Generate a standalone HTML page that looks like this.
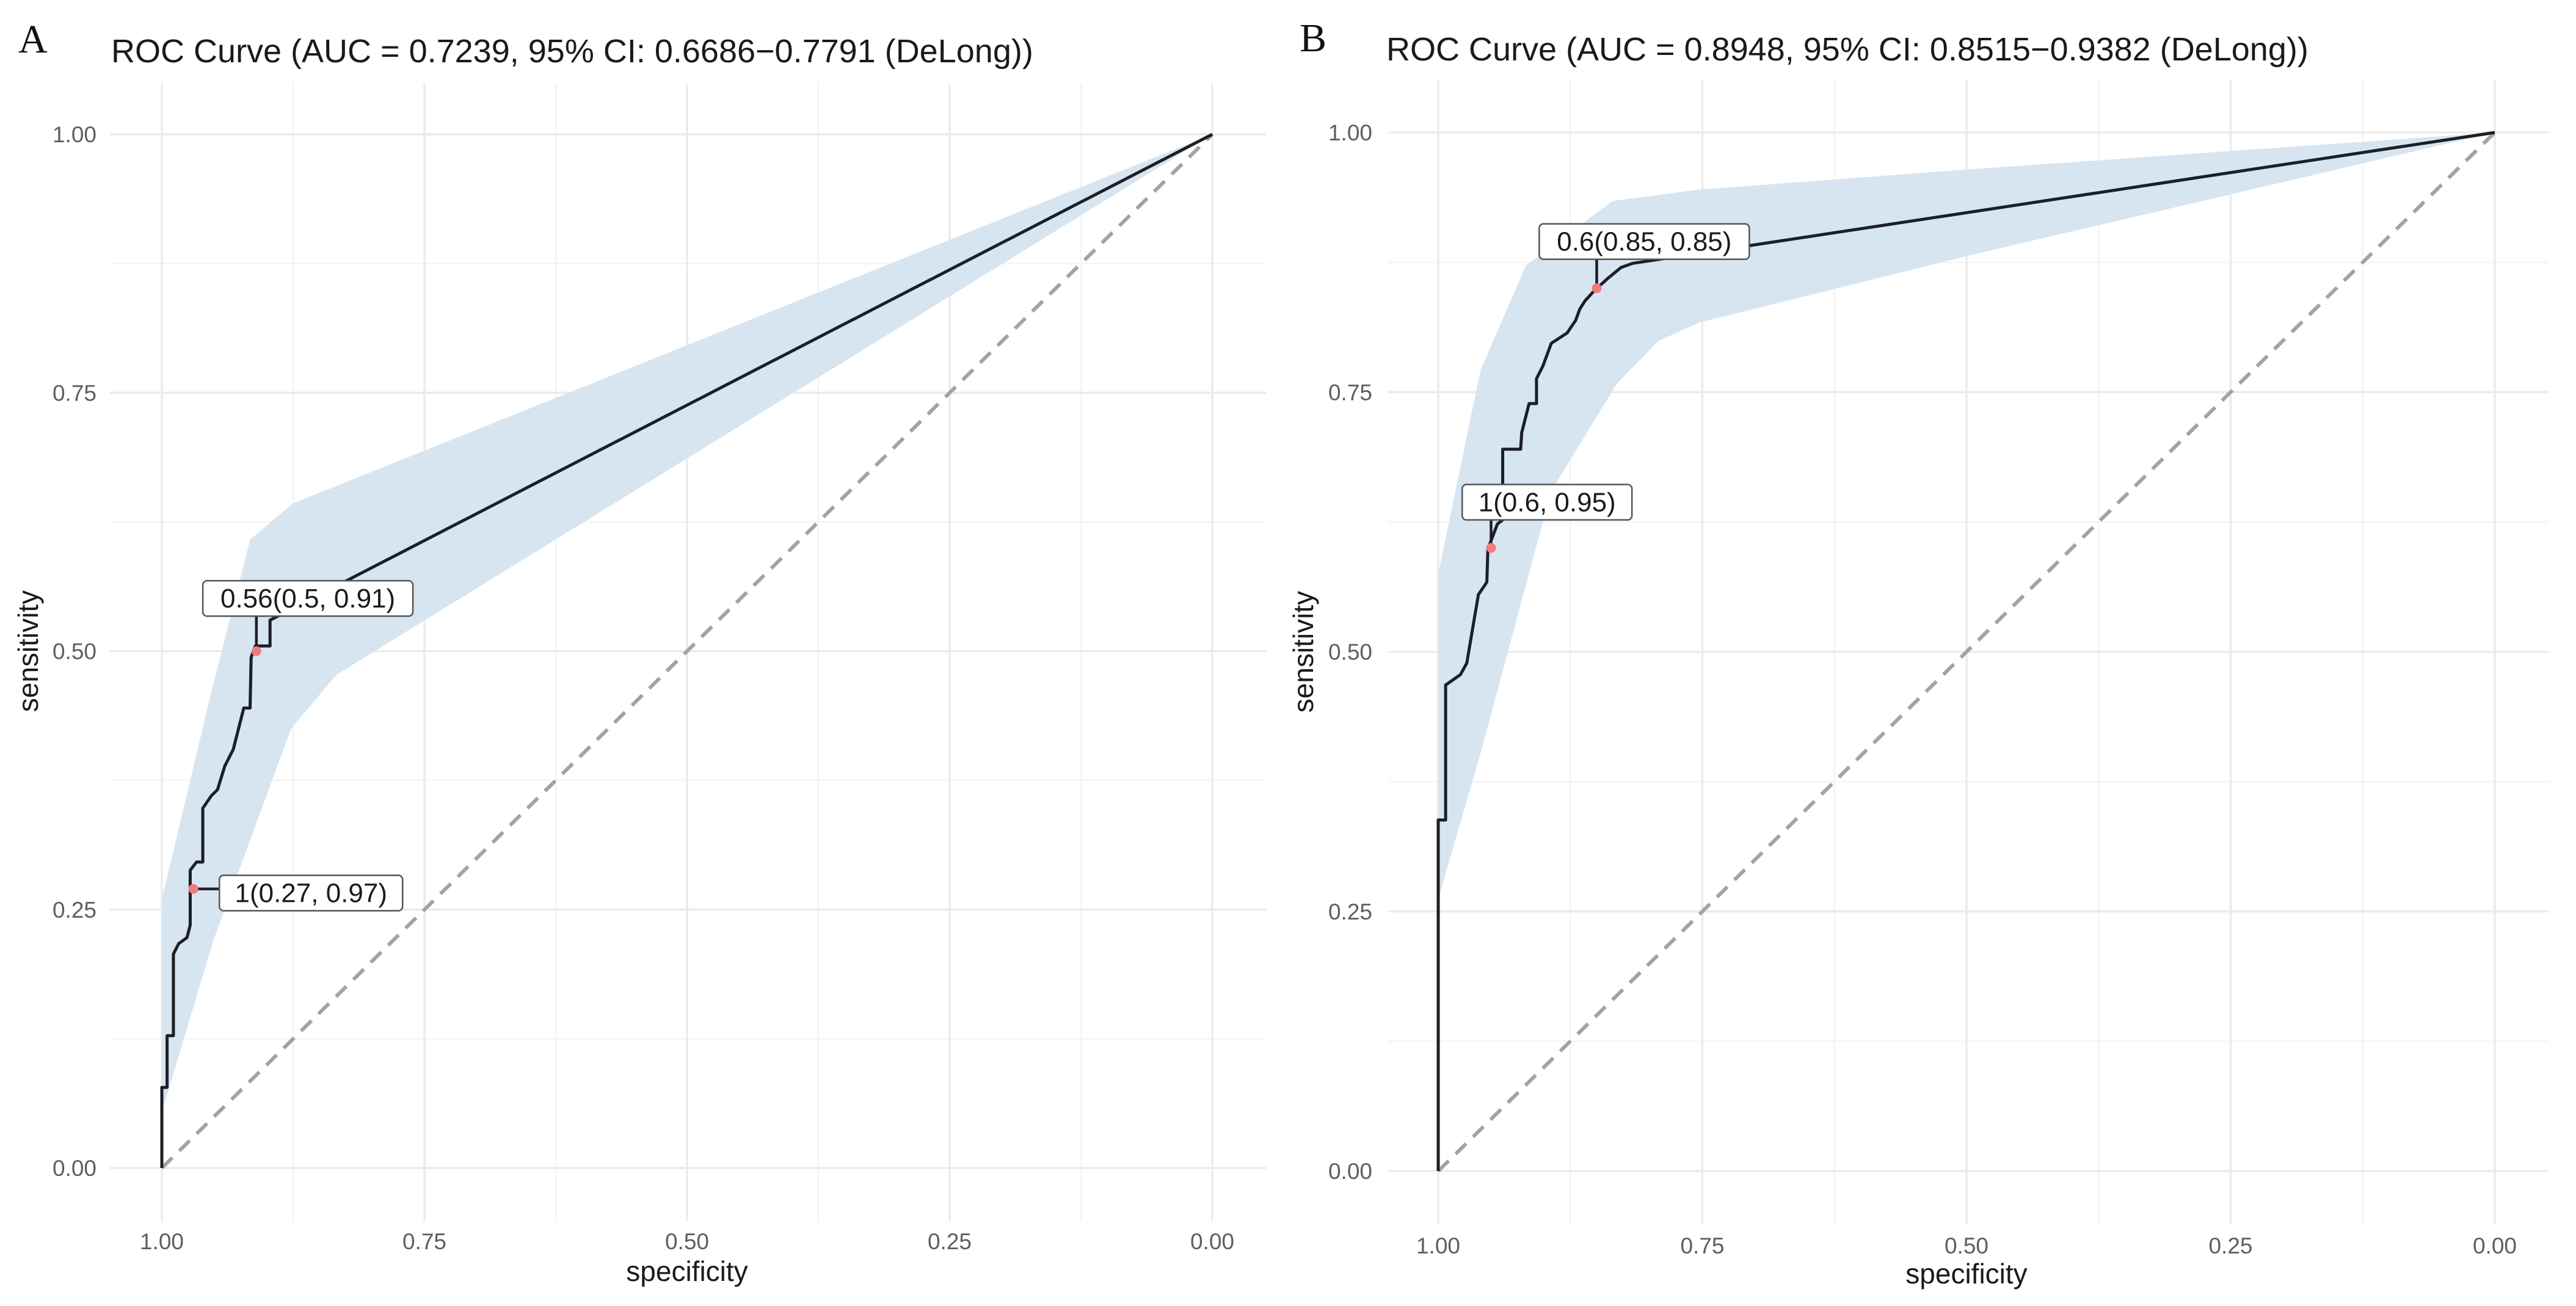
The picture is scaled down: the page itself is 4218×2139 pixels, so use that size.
<!DOCTYPE html>
<html><head><meta charset="utf-8">
<style>
html,body{margin:0;padding:0;background:#fff;}
svg{display:block;font-family:"Liberation Sans",Arial,sans-serif;}
</style></head>
<body>
<svg id="chart" width="4218" height="2139" viewBox="0 0 4218 2139" xmlns="http://www.w3.org/2000/svg"></svg>
<script>
// ---- Data ----
const tickValues = [1.00, 0.75, 0.50, 0.25, 0.00];
const tickLabels = ["1.00", "0.75", "0.50", "0.25", "0.00"];
const yTickValues = [0.00, 0.25, 0.50, 0.75, 1.00];
const yTickLabels = ["0.00", "0.25", "0.50", "0.75", "1.00"];

// Panel A
const titleA = "ROC Curve (AUC = 0.7239, 95% CI: 0.6686\u22120.7791 (DeLong))";
const specA = [1.0,1.0,0.995,0.995,0.989,0.989,0.984,0.976,0.973,0.973,0.967,0.961,0.961,0.953,0.947,0.940,0.932,0.926,0.922,0.916,0.915,0.911,0.897,0.897,0.0];
const sensA = [0.0,0.078,0.078,0.128,0.128,0.207,0.217,0.223,0.235,0.288,0.296,0.296,0.348,0.36,0.366,0.389,0.405,0.429,0.445,0.445,0.494,0.505,0.505,0.53,1.0];
const bandSpecUpperA = [1.0,0.953,0.916,0.875,0.0];
const bandUpperA = [0.26,0.46,0.608,0.643,1.0];
const bandSpecLowerA = [1.0,0.951,0.877,0.834,0.0];
const bandLowerA = [0.054,0.22,0.425,0.477,1.0];
const ptSpecA = [0.91,0.97];
const ptSensA = [0.50,0.27];
const lblTextA = ["0.56(0.5, 0.91)","1(0.27, 0.97)"];
const lblSpecA = [0.861,0.858];
const lblSensA = [0.551,0.266];

// Panel B
const titleB = "ROC Curve (AUC = 0.8948, 95% CI: 0.8515\u22120.9382 (DeLong))";
const specB = [1.0,1.0,0.993,0.993,0.979,0.973,0.962,0.954,0.953,0.944,0.939,0.939,0.922,0.921,0.914,0.907,0.907,0.901,0.893,0.878,0.870,0.866,0.861,0.852,0.839,0.827,0.816,0.0];
const sensB = [0.0,0.338,0.338,0.468,0.478,0.489,0.555,0.567,0.599,0.623,0.627,0.695,0.695,0.711,0.739,0.739,0.763,0.775,0.797,0.807,0.819,0.83,0.838,0.848,0.86,0.87,0.874,1.0];
const bandSpecUpperB = [1.0,0.960,0.917,0.835,0.753,0.504,0.0];
const bandUpperB = [0.575,0.771,0.872,0.934,0.945,0.964,1.0];
const bandSpecLowerB = [1.0,0.960,0.893,0.831,0.792,0.753,0.504,0.0];
const bandLowerB = [0.262,0.402,0.655,0.758,0.799,0.817,0.88,1.0];
const ptSpecB = [0.95,0.85];
const ptSensB = [0.60,0.85];
const lblTextB = ["1(0.6, 0.95)","0.6(0.85, 0.85)"];
const lblSpecB = [0.897,0.805];
const lblSensB = [0.644,0.895];

const NS = "http://www.w3.org/2000/svg";
const svg = document.getElementById("chart");
function mk(tag, attrs, parent){
  const e = document.createElementNS(NS, tag);
  for (const k in attrs) e.setAttribute(k, attrs[k]);
  (parent||svg).appendChild(e);
  return e;
}

function panel(cfg){
  const g = mk("g", {});
  
  
  const X = s => cfg.x1 + (1 - s) * (cfg.x0 - cfg.x1);
  const Y = v => cfg.yb - v * (cfg.yb - cfg.yt);
  for (let i = 0; i < 4; i++) {
    const v = 0.125 + i * 0.25;
    const l1 = mk("line", {x1:X(v), x2:X(v), y1:cfg.gt, y2:cfg.gb, stroke:"#f2f2f2", "stroke-width":2}, g);
    
    
    const l2 = mk("line", {x1:cfg.gl, x2:cfg.gr, y1:Y(v), y2:Y(v), stroke:"#f2f2f2", "stroke-width":2}, g);
    
    
  }
  tickValues.forEach((v, i) => {
    const l = mk("line", {x1:X(v), x2:X(v), y1:cfg.gt, y2:cfg.gb, stroke:"#ebebeb", "stroke-width":3.5}, g);
    
    
    const t = mk("text", {x:X(v), y:cfg.xtickY, "text-anchor":"middle", "font-size":37, fill:"#5e5e5e"}, g);
    t.textContent = tickLabels[i];
    
    
  });
  yTickValues.forEach((v, i) => {
    const l = mk("line", {x1:cfg.gl, x2:cfg.gr, y1:Y(v), y2:Y(v), stroke:"#ebebeb", "stroke-width":3.5}, g);
    
    
    const t = mk("text", {x:cfg.ytickX, y:Y(v) + 13, "text-anchor":"end", "font-size":37, fill:"#5e5e5e"}, g);
    t.textContent = yTickLabels[i];
    
    
  });
  let pts = [];
  cfg.bsu.forEach((s, i) => pts.push(X(s) + "," + Y(cfg.bu[i])));
  for (let i = cfg.bsl.length - 1; i >= 0; i--) pts.push(X(cfg.bsl[i]) + "," + Y(cfg.bl[i]));
  const band = mk("polygon", {points: pts.join(" "), fill:"#d7e5f1", stroke:"none"}, g);
  
  
  const d = mk("line", {x1:X(1), y1:Y(0), x2:X(0), y2:Y(1), stroke:"#a3a3a3", "stroke-width":6, "stroke-dasharray":"24 16"}, g);
  
  
  const path = cfg.spec.map((s, i) => (i ? "L" : "M") + X(s) + " " + Y(cfg.sens[i])).join(" ");
  const c = mk("path", {d:path, fill:"none", stroke:"#1c1f26", "stroke-width":5, "stroke-linejoin":"round"}, g);
  
  
  cfg.lt.forEach((txt, i) => {
    const cx = X(cfg.ls[i]), cy = Y(cfg.lv[i]);
    const px = X(cfg.ps[i]), py = Y(cfg.pv[i]);
    const w = txt.length * 22 + 14, h = 58;
    const ex = Math.max(cx - w/2, Math.min(cx + w/2, px));
    const ey = Math.max(cy - h/2, Math.min(cy + h/2, py));
    const ln = mk("line", {x1:px, y1:py, x2:ex, y2:ey, stroke:"#1c1f26", "stroke-width":4.5}, g);
    
    
    const r = mk("rect", {x:cx - w/2, y:cy - h/2, width:w, height:h, rx:7, fill:"#fff", stroke:"#555", "stroke-width":2.5}, g);
    
    
    const t = mk("text", {x:cx, y:cy + 15, "text-anchor":"middle", "font-size":44, fill:"#1a1a1a"}, g);
    t.textContent = txt;
    
    
    const p = mk("circle", {cx:px, cy:py, r:8, fill:"#f07c7c"}, g);
    
    
  });
  const lt = mk("text", {x:cfg.letterX, y:cfg.letterY, "font-size":66, "font-family":"Liberation Serif, serif", fill:"#111"}, g);
  lt.textContent = cfg.letter;
  
  
  const tt = mk("text", {x:cfg.titleX, y:cfg.titleY, "font-size":54, fill:"#1a1a1a"}, g);
  tt.textContent = cfg.title;
  
  
  const xt = mk("text", {x:(X(0)+X(1))/2, y:cfg.xtitleY, "text-anchor":"middle", "font-size":46, fill:"#1a1a1a"}, g);
  xt.textContent = "specificity";
  
  
  const ym = (Y(0)+Y(1))/2;
  const yt = mk("text", {x:cfg.ytitleX, y:ym, "text-anchor":"middle", "font-size":46, fill:"#1a1a1a", transform:"rotate(-90 " + cfg.ytitleX + " " + ym + ")"}, g);
  yt.textContent = "sensitivity";
  
  
}

panel({id:"a", x1:265, x0:1985, yb:1913, yt:220, gl:180, gr:2073, gt:137, gb:2000,
  xtickY:2046, ytickX:158, xtitleY:2098, ytitleX:62,
  letter:"A", letterX:30, letterY:86, title:titleA, titleX:182, titleY:102,
  spec:specA, sens:sensA, bsu:bandSpecUpperA, bu:bandUpperA, bsl:bandSpecLowerA, bl:bandLowerA,
  ps:ptSpecA, pv:ptSensA, lt:lblTextA, ls:lblSpecA, lv:lblSensA});
panel({id:"b", x1:2355, x0:4085, yb:1918, yt:217, gl:2273, gr:4173, gt:130, gb:2005,
  xtickY:2053, ytickX:2247, xtitleY:2102, ytitleX:2150,
  letter:"B", letterX:2128, letterY:84, title:titleB, titleX:2270, titleY:99,
  spec:specB, sens:sensB, bsu:bandSpecUpperB, bu:bandUpperB, bsl:bandSpecLowerB, bl:bandLowerB,
  ps:ptSpecB, pv:ptSensB, lt:lblTextB, ls:lblSpecB, lv:lblSensB});
</script>
</body></html>
